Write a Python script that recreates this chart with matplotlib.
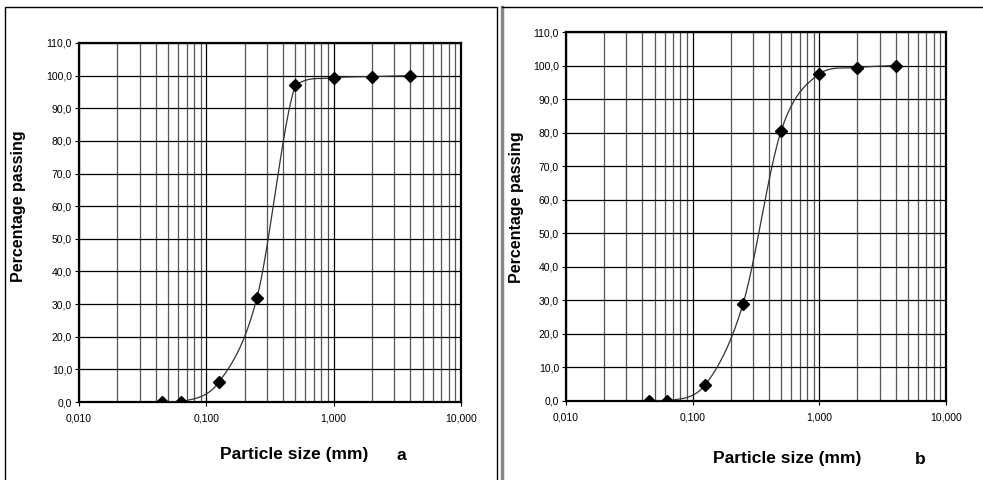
import matplotlib
matplotlib.use("Agg")
import matplotlib.pyplot as plt
import numpy as np
from matplotlib.lines import Line2D
from matplotlib.ticker import FixedLocator, FuncFormatter, LogLocator, NullFormatter

plt.rcParams['font.family'] = ['Liberation Sans', 'DejaVu Sans']

# sieve sizes (mm) and percentage passing for both samples
sizes = [0.045, 0.063, 0.125, 0.25, 0.5, 1.0, 2.0, 4.0]
passing_a = [0.0, 0.0, 6.0, 32.0, 97.0, 99.3, 99.7, 100.0]
passing_b = [0.0, 0.0, 4.7, 29.0, 80.6, 97.6, 99.4, 100.0]
panel_labels = ['a', 'b']
y_ticks = list(range(0, 111, 10))
x_ticks = [0.01, 0.1, 1.0, 10.0]


def smooth(xs, ys, ux, vy, n=40):
    # Excel-like smoothed line: bezier segments in screen space, control points kept in range
    u = np.log10(xs) * ux
    v = np.array(ys) * vy
    P = np.column_stack([u, v])
    Q = np.vstack([P[0], P, P[-1]])
    out = []
    t = np.linspace(0, 1, n)[:, None]
    for i in range(len(P) - 1):
        p0, p1 = Q[i + 1], Q[i + 2]
        c1 = p0 + (Q[i + 2] - Q[i]) / 6
        c2 = p1 - (Q[i + 3] - Q[i + 1]) / 6
        lo, hi = min(p0[1], p1[1]), max(p0[1], p1[1]) + 0.6 * vy
        c1[1] = np.clip(c1[1], lo, hi)
        c2[1] = np.clip(c2[1], lo, hi)
        seg = (1 - t) ** 3 * p0 + 3 * (1 - t) ** 2 * t * c1 + 3 * (1 - t) * t ** 2 * c2 + t ** 3 * p1
        out.append(seg)
    S = np.vstack(out)
    return 10 ** (S[:, 0] / ux), S[:, 1] / vy


fig = plt.figure(figsize=(9.83, 4.8), dpi=100)

# panel frames
for xs_, ys_, c, lw in [
    ([5, 5, 497, 497], [480, 7, 7, 480], 'black', 1.0),
    ([502, 502], [7, 480], '#888888', 2.5),
    ([502, 983], [7, 7], 'black', 1.0),
]:
    fig.add_artist(Line2D([x / 983 for x in xs_], [1 - y / 480 for y in ys_],
                          transform=fig.transFigure, color=c, lw=lw))

boxes = [
    (79, 461, 43, 402),
    (566, 946, 32, 401),
]
ylabel_xy = [(19, 206), (517, 207)]
label_pos = [(294, 455, 401), (787, 459, 920)]

for k, (vals, box) in enumerate(zip([passing_a, passing_b], boxes)):
    x0, x1, yt, yb = box
    ax = fig.add_axes([x0 / 983, 1 - yb / 480, (x1 - x0) / 983, (yb - yt) / 480])
    ax.set_xscale('log')
    ax.set_xlim(0.01, 10)
    ax.set_ylim(0, 110)
    ux = (x1 - x0) / 3.0
    vy = (yb - yt) / 110.0
    cx, cy = smooth(sizes, vals, ux, vy)
    ax.plot(cx, cy, color='#333333', lw=0.9, zorder=3)
    ax.plot(sizes, vals, linestyle='none', marker='D', ms=6, color='black', zorder=4)

    ax.xaxis.set_major_locator(FixedLocator(x_ticks))
    ax.xaxis.set_minor_locator(LogLocator(base=10, subs=np.arange(2, 10)))
    ax.xaxis.set_minor_formatter(NullFormatter())
    ax.xaxis.set_major_formatter(FuncFormatter(lambda v, p: f"{v:.3f}".replace('.', ',')))
    ax.set_yticks(y_ticks)
    ax.yaxis.set_major_formatter(FuncFormatter(lambda v, p: f"{v:.1f}".replace('.', ',')))
    ax.grid(True, which='major', color='black', lw=0.9)
    ax.grid(True, which='minor', axis='x', color='#555555', lw=0.9)
    ax.tick_params(axis='both', which='major', labelsize=7.5, direction='out', length=3, width=0.8,
                   color='black', pad=2)
    ax.tick_params(axis='x', which='minor', length=0)
    ax.tick_params(axis='x', which='major', pad=5)
    for s in ax.spines.values():
        s.set_linewidth(1.6)
        s.set_color('black')
    ax.set_axisbelow(True)

    yx, yy = ylabel_xy[k]
    fig.text(yx / 983, 1 - yy / 480, 'Percentage passing', fontsize=11.5,
             fontweight='bold', rotation=90, ha='center', va='center')

    lx, ly, px = label_pos[k]
    fig.text(lx / 983, 1 - ly / 480, 'Particle size (mm)', fontsize=12.5, fontweight='bold',
             ha='center', va='center')
    fig.text(px / 983, 1 - ly / 480, panel_labels[k], fontsize=12.5, fontweight='bold',
             ha='center', va='center')

fig.savefig('out.png', dpi=100)
